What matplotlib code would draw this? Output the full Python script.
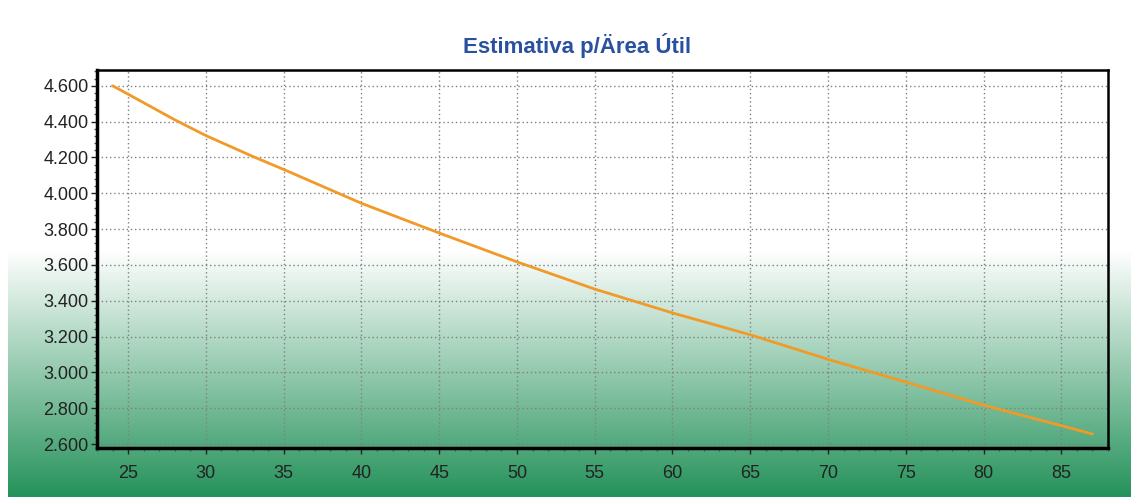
import numpy as np
import matplotlib
matplotlib.use("Agg")
import matplotlib.pyplot as plt
from matplotlib.ticker import MultipleLocator, FuncFormatter

plt.rcParams['font.family'] = ['Liberation Sans', 'DejaVu Sans']

x_vals = [24, 25, 28, 30, 33, 35, 40, 45, 50, 55, 60, 65, 70, 75, 80, 85, 87]
y_vals = [4600, 4553, 4410, 4322, 4206, 4133, 3944, 3778, 3617, 3465, 3332, 3210, 3073, 2946, 2817, 2703, 2656]
title = "Estimativa p/Ärea Útil"

W, H = 1131, 497
fig = plt.figure(figsize=(W / 100, H / 100), dpi=100)

# background gradient
bg = fig.add_axes([0, 0, 1, 1], zorder=-10)
bg.set_axis_off()
rows = np.arange(H)
t = np.clip((rows - 250) / (H - 250), 0, 1)
top = np.array([1.0, 1.0, 1.0])
bot = np.array([36, 146, 90]) / 255
img = np.ones((H, W, 3))
grad = top[None, :] * (1 - t[:, None]) + bot[None, :] * t[:, None]
img[:, 8:, :] = grad[:, None, :]
bg.imshow(img, aspect='auto', extent=[0, W, H, 0])
bg.set_xlim(0, W)
bg.set_ylim(H, 0)

ax = fig.add_axes([97 / W, (H - 448) / H, (1108 - 97) / W, (448 - 70) / H])
ax.set_facecolor('none')
ax.plot(x_vals, y_vals, color='#f09a28', lw=2.0, solid_capstyle='round',
        solid_joinstyle='round')

ax.set_xlim(23, 88)
ax.set_ylim(2578, 4688)
ax.xaxis.set_major_locator(MultipleLocator(5))
ax.xaxis.set_minor_locator(MultipleLocator(1))
ax.yaxis.set_major_locator(MultipleLocator(200))
ax.yaxis.set_minor_locator(MultipleLocator(40))
ax.yaxis.set_major_formatter(FuncFormatter(lambda v, p: f"{int(round(v)):,}".replace(",", ".")))

ax.grid(True, which='major', color='#808080', linestyle=(0, (1, 2)), lw=1.0)
ax.tick_params(which='major', direction='out', length=4, width=1, labelsize=13,
               colors='#222222', pad=2)
ax.tick_params(which='minor', direction='out', length=2.5, width=1, colors='#555555')
ax.tick_params(axis='x', which='major', pad=8)

for s in ['left', 'bottom']:
    ax.spines[s].set_linewidth(2.5)
for s in ['top', 'right']:
    ax.spines[s].set_linewidth(1.8)

fig.text(577 / W, 1 - 45 / H, title, ha='center', va='center', fontsize=16,
         fontweight='bold', color='#2a50a0')

fig.savefig('out.png', dpi=100)
